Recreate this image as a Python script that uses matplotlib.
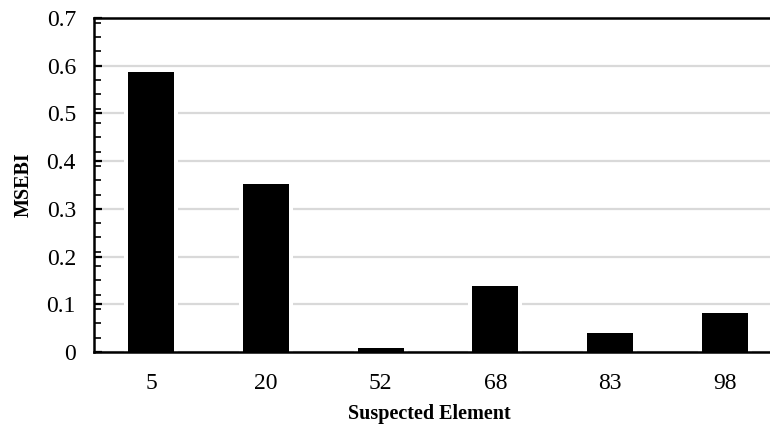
import matplotlib
matplotlib.use('Agg')
import matplotlib.pyplot as plt
from matplotlib.ticker import MultipleLocator, FuncFormatter
import numpy as np

elements = ['5', '20', '52', '68', '83', '98']
msebi = [0.587, 0.352, 0.008, 0.138, 0.039, 0.081]

plt.rcParams['font.family'] = ['Liberation Serif', 'DejaVu Serif']

fig = plt.figure(figsize=(7.7, 4.25), dpi=100)
# plot area runs a little past the right edge of the picture, as in the original
ax = fig.add_axes([94 / 770, 1 - 352 / 425, 688 / 770, 334 / 425])

x = np.arange(len(elements))
# white halo behind the bars so the gridlines stop short of them
ax.bar(x, msebi, width=0.47, color='white', zorder=1)
ax.bar(x, msebi, width=0.4, color='black', zorder=2)

ax.set_xlim(-0.5, len(elements) - 0.5)
ax.set_ylim(0, 0.7)
ax.set_xticks(x)
ax.set_xticklabels(elements)
ax.yaxis.set_major_locator(MultipleLocator(0.1))
ax.yaxis.set_minor_locator(MultipleLocator(0.03))
ax.yaxis.set_major_formatter(FuncFormatter(lambda v, p: '0' if abs(v) < 1e-9 else '%.1f' % v))

ax.grid(axis='y', color='#d9d9d9', linewidth=1.6, zorder=0)
ax.set_axisbelow(True)

ax.tick_params(axis='x', length=0, labelsize=17, pad=15)
ax.tick_params(axis='y', which='major', direction='in', length=6, width=1.6, labelsize=17, pad=13)
ax.tick_params(axis='y', which='minor', direction='in', length=5, width=1.2)

for s in ['left', 'bottom', 'top']:
    ax.spines[s].set_linewidth(1.8)
    ax.spines[s].set_color('black')
    ax.spines[s].set_zorder(3)
ax.spines['right'].set_visible(False)

ax.set_ylabel('MSEBI', fontsize=14.5, fontweight='bold', labelpad=9)
ax.set_xlabel('Suspected Element', fontsize=14.5, fontweight='bold', labelpad=7)
ax.xaxis.label.set_x(0.488)

fig.savefig('out.png', dpi=100)
